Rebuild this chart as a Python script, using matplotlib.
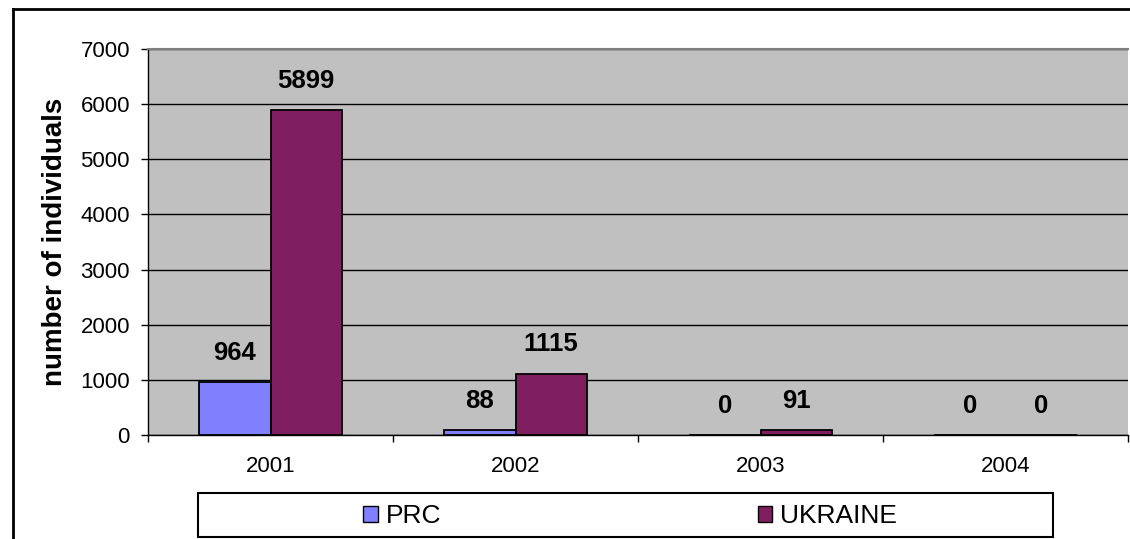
import matplotlib
matplotlib.use("Agg")
import matplotlib.pyplot as plt
import numpy as np
from matplotlib.lines import Line2D
from matplotlib.patches import Rectangle

years = ["2001", "2002", "2003", "2004"]
prc = [964, 88, 0, 0]
ukraine = [5899, 1115, 91, 0]
series_names = ["PRC", "UKRAINE"]
y_label = "number of individuals"
y_ticks = [0, 1000, 2000, 3000, 4000, 5000, 6000, 7000]

plt.rcParams['font.family'] = ['Liberation Sans', 'DejaVu Sans']

W, H = 1130, 539
fig = plt.figure(figsize=(W/100, H/100), dpi=100)
fig.patch.set_facecolor('white')

left, right, top, bottom = 148, 1128, 49, 435
ax = fig.add_axes([left/W, 1-bottom/H, (right-left)/W, (bottom-top)/H])
ax.set_facecolor('#C0C0C0')

x = np.arange(len(years))
bw = 0.29
c_prc = '#8080FF'
c_ukr = '#7F1F5F'
b1 = ax.bar(x - bw/2, prc, bw, color=c_prc, edgecolor='black', linewidth=1.3, zorder=3)
b2 = ax.bar(x + bw/2, ukraine, bw, color=c_ukr, edgecolor='black', linewidth=1.3, zorder=3)

for bars, vals in ((b1, prc), (b2, ukraine)):
    for b, v in zip(bars, vals):
        ax.annotate(str(v), (b.get_x() + b.get_width()/2, v), xytext=(0, 21),
                    textcoords='offset points', ha='center', va='center',
                    fontsize=18.5, fontweight='bold', zorder=5)

ax.set_xlim(-0.5, len(years) - 0.5)
ax.set_ylim(0, 7000)
ax.set_yticks(y_ticks)
ax.set_yticklabels([str(t) for t in y_ticks], fontsize=16)
ax.yaxis.grid(True, color='black', linewidth=1, zorder=1)
ax.set_axisbelow(True)

ax.set_xticks(x)
ax.set_xticklabels(years, fontsize=16)
ax.tick_params(axis='x', which='major', length=0, pad=15)
ax.set_xticks(np.arange(len(years) + 1) - 0.5, minor=True)
ax.tick_params(axis='x', which='minor', length=5, width=1, direction='out', color='black')
ax.tick_params(axis='y', length=5, width=1, direction='out', pad=8)

for s in ('left', 'bottom'):
    ax.spines[s].set_color('black')
    ax.spines[s].set_linewidth(1)
ax.spines['top'].set_color('#808080')
ax.spines['top'].set_linewidth(1.5)
ax.spines['right'].set_visible(False)

fig.text(55/W, 1 - 242/H, y_label, rotation=90, ha='center', va='center',
         fontsize=20, fontweight='bold')

# outer chart border
fig.add_artist(Line2D([13/W, 13/W], [0, 1 - 9/H], color='black', linewidth=2, transform=fig.transFigure))
fig.add_artist(Line2D([13/W, 1], [1 - 9/H, 1 - 9/H], color='black', linewidth=2, transform=fig.transFigure))

# legend box
fig.add_artist(Rectangle((198/W, 1 - 537/H), (1053-198)/W, (537-493)/H, transform=fig.transFigure,
                         facecolor='white', edgecolor='black', linewidth=1.5))
handles = [Rectangle((0, 0), 1, 1, facecolor=c_prc, edgecolor='black', linewidth=1),
           Rectangle((0, 0), 1, 1, facecolor=c_ukr, edgecolor='black', linewidth=1)]
leg = fig.legend(handles, series_names, loc='center', bbox_to_anchor=(630/W, 1 - 516/H),
                 ncol=2, frameon=False, fontsize=19, handlelength=0.55, handleheight=0.55,
                 handletextpad=0.3, columnspacing=12.0, borderpad=0, borderaxespad=0)

fig.savefig('out.png', dpi=100)
